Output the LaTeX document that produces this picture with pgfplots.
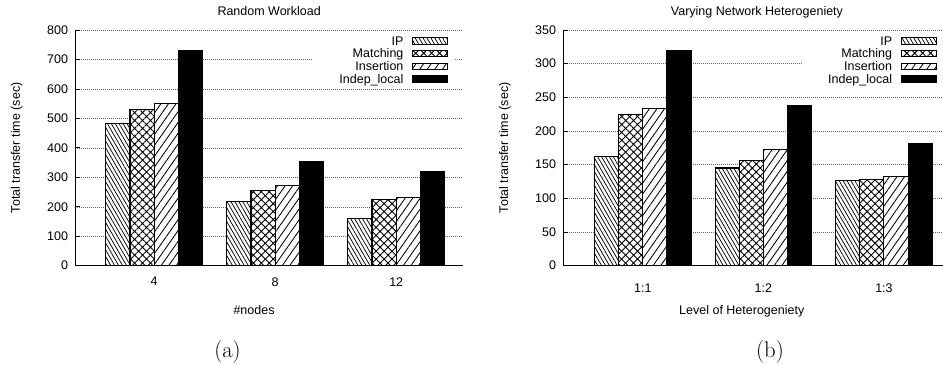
\documentclass[border=0pt]{standalone}
\usepackage{fontspec}
\usepackage{pgfplots}
\pgfplotsset{compat=1.18}
\usetikzlibrary{patterns.meta}
\newfontfamily\sansf{Liberation Sans}
\tikzset{
  ipbar/.style={draw=black, line width=1.1pt, fill=white, postaction={pattern={Lines[angle=-60,distance=3.4pt,line width=0.75pt]}}},
  mabar/.style={draw=black, line width=1.1pt, fill=white, postaction={pattern={Hatch[angle=45,distance=5.6pt,line width=0.9pt]}}},
  inbar/.style={draw=black, line width=1.1pt, fill=white, postaction={pattern={Lines[angle=55,distance=6.2pt,line width=0.85pt]}}},
  lobar/.style={draw=black, line width=1.1pt, fill=black},
}
\pgfplotsset{
  mybars/.style={
    scale only axis,
    ybar, bar width=0.2,
    legend image code/.code={\draw[##1, line width=0.9pt] (0pt,-3.15pt) rectangle (35pt,3.15pt);},
    axis x line*=bottom, axis y line*=left,
    axis line style={line width=1pt, -},
    tick align=inside, major tick length=5pt,
    ytick style={black, line width=0.8pt},
    xtick style={draw=none},
    ymajorgrids,
    grid style={black!60, line width=0.5pt, dash pattern=on 0.6pt off 1.4pt},
    /pgf/number format/assume math mode=true,
    yticklabel style={anchor=east, inner sep=0pt, xshift=-7pt},
    every axis title/.style={anchor=base},
    every axis x label/.style={anchor=base},
    every axis y label/.style={anchor=center, rotate=90},
    legend style={draw=none, fill=white, inner xsep=7pt, inner ysep=0pt,
      row sep=0pt, column sep=8.5pt, anchor=north east,
      nodes={inner sep=0pt, text height=10.7pt, text depth=2pt}},
    legend cell align=right, legend plot pos=right,
  }
}
\begin{document}
\begin{tikzpicture}[font=\sansf\fontsize{12.5}{15}\selectfont]
\useasboundingbox (0pt,0pt) rectangle (943pt,366pt);
\begin{axis}[mybars,
  at={(75.3pt,100.3pt)}, anchor=south west,
  width=387.7pt, height=235.7pt,
  xmin=-0.652, xmax=2.552, ymin=0, ymax=800,
  xtick={0,1,2}, xticklabels={4,8,12},
  ytick={0,100,...,800},
  xticklabel style={anchor=north, inner sep=0pt, yshift=-11.5pt},
  title={Random Workload},
  title style={at={(axis description cs:0.5,1.0636)}},
  xlabel={\#nodes},
  xlabel style={at={(axis description cs:0.461,-0.207)}},
  ylabel={Total transfer time (sec)},
  ylabel style={at={(axis description cs:-0.151,0.5)}},
  legend style={at={(0.9794,0.9818)}},
]
\addplot[ipbar, bar shift=-0.3] coordinates {(0,483) (1,219) (2,161)};
\addplot[mabar, bar shift=-0.1] coordinates {(0,530) (1,256) (2,224)};
\addplot[inbar, bar shift=0.1] coordinates {(0,550) (1,271) (2,232)};
\addplot[lobar, bar shift=0.3] coordinates {(0,730) (1,353) (2,320)};
\legend{IP,Matching,Insertion,\hspace*{19.7pt}Indep\_local}
\end{axis}
\begin{axis}[mybars,
  at={(563.3pt,100.3pt)}, anchor=south west,
  width=379.7pt, height=235.7pt,
  xmin=-0.66, xmax=2.49, ymin=0, ymax=350,
  xtick={0,1,2}, xticklabels={1:1,1:2,1:3},
  ytick={0,50,...,350},
  xticklabel style={anchor=north, inner sep=0pt, yshift=-18pt},
  title={Varying Network Heterogeniety},
  title style={at={(axis description cs:0.51,1.0636)}},
  xlabel={Level of Heterogeniety},
  xlabel style={at={(axis description cs:0.470,-0.207)}},
  ylabel={Total transfer time (sec)},
  ylabel style={at={(axis description cs:-0.1536,0.5)}},
  legend style={at={(1.0018,0.9818)}},
]
\addplot[ipbar, bar shift=-0.3] coordinates {(0,162) (1,145) (2,127)};
\addplot[mabar, bar shift=-0.1] coordinates {(0,224) (1,156) (2,128)};
\addplot[inbar, bar shift=0.1] coordinates {(0,233) (1,173) (2,133)};
\addplot[lobar, bar shift=0.3] coordinates {(0,320) (1,238) (2,182)};
\legend{IP,Matching,Insertion,\hspace*{19pt}Indep\_local}
\end{axis}
\node[font=\rmfamily\fontsize{22.7}{27}\selectfont, anchor=base, inner sep=0pt] at (227.5pt,8.8pt) {(a)};
\node[font=\rmfamily\fontsize{22.7}{27}\selectfont, anchor=base, inner sep=0pt] at (770pt,8.8pt) {(b)};
\end{tikzpicture}
\end{document}
